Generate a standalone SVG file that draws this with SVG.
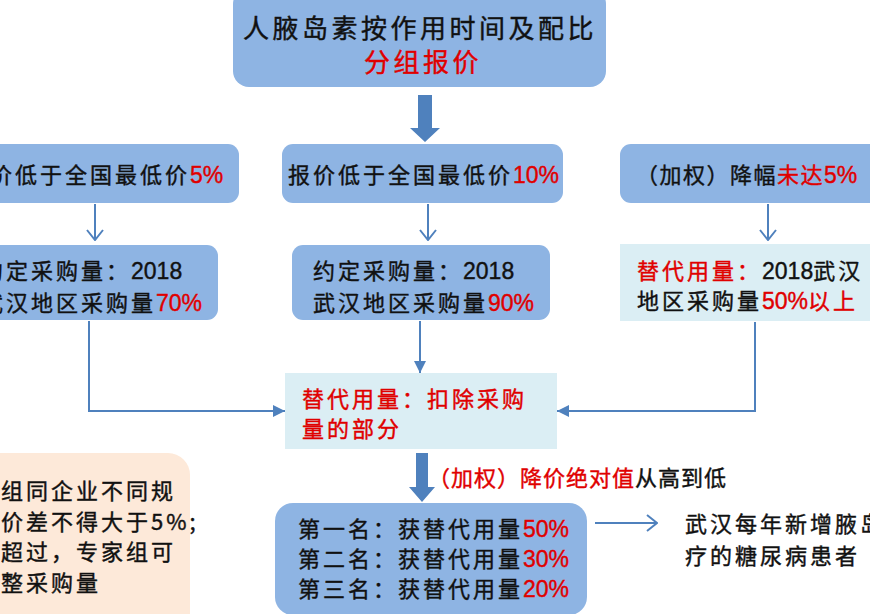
<svg xmlns="http://www.w3.org/2000/svg" width="870" height="614" viewBox="0 0 870 614">
<defs>
<style>
.t{font-family:"Noto Sans CJK SC","Noto Sans",sans-serif;font-size:22px;letter-spacing:3px;fill:#111;stroke:#111;stroke-width:0.4px;}
.ttl{font-size:26px;letter-spacing:3.5px;}
.r{fill:#e00000;stroke:#e00000;}
.n{font-family:"Liberation Sans",Arial,sans-serif;font-size:23px;letter-spacing:0;}
.blue{fill:#8eb4e3;}
.lb{fill:#dbeef4;}
.pe{fill:#fde9d9;}
.ln{fill:none;stroke:#4f81bd;stroke-width:2;}
.big{fill:#4f81bd;}
</style>
<marker id="open" markerUnits="userSpaceOnUse" viewBox="0 0 12 18" refX="11" refY="9" markerWidth="12" markerHeight="18" orient="auto">
<path d="M1,1 L11,9 L1,17" fill="none" stroke="#4f81bd" stroke-width="2"/>
</marker>
<marker id="tri" markerUnits="userSpaceOnUse" viewBox="0 0 12 12" refX="12" refY="6" markerWidth="12" markerHeight="12" orient="auto">
<path d="M0,0 L12,6 L0,12 Z" fill="#4f81bd"/>
</marker>
</defs>
<rect width="870" height="614" fill="#fff"/>

<g id="connectors">
<polygon class="big" points="418,95 432,95 432,128 440,128 425,142 410,128 418,128"/>
<line class="ln" x1="95" y1="204" x2="95" y2="240" marker-end="url(#open)"/>
<line class="ln" x1="428" y1="204" x2="428" y2="240" marker-end="url(#open)"/>
<line class="ln" x1="768" y1="204" x2="768" y2="240" marker-end="url(#open)"/>
<polyline class="ln" points="89,321 89,411 285,411" marker-end="url(#tri)"/>
<line class="ln" x1="420" y1="321" x2="420" y2="373" marker-end="url(#tri)"/>
<polyline class="ln" points="755,322 755,411 557,411" marker-end="url(#tri)"/>
<polygon class="big" points="416,453 428,453 428,487 435,487 422,502 409,487 416,487"/>
<line class="ln" x1="595" y1="523" x2="657" y2="523" marker-end="url(#open)"/>
</g>

<g id="title">
<rect class="blue" x="233" y="-12" width="373" height="99" rx="16"/>
<text class="t ttl" x="243" y="38">人腋岛素按作用时间及配比</text>
<text class="t ttl r" x="364" y="72">分组报价</text>
</g>

<g id="cond5">
<rect class="blue" x="-42" y="144" width="281" height="59" rx="11"/>
<text class="t" x="-10" y="183">价低于全国最低价<tspan class="r n">5%</tspan></text>
</g>

<g id="cond10">
<rect class="blue" x="282" y="144" width="281" height="59" rx="11"/>
<text class="t" x="288" y="183">报价低于全国最低价<tspan class="r n">10%</tspan></text>
</g>

<g id="condw">
<rect class="blue" x="620" y="144" width="290" height="59" rx="11"/>
<text class="t" x="636" y="183" style="letter-spacing:1.5px">（加权）降幅<tspan class="r">未达</tspan><tspan class="r n">5%</tspan></text>
</g>

<g id="vol70">
<rect class="blue" x="-40" y="245" width="258" height="75" rx="11"/>
<text class="t" x="-19" y="279">约定采购量：<tspan class="n">2018</tspan></text>
<text class="t" x="-19" y="311">武汉地区采购量<tspan class="r n">70%</tspan></text>
</g>

<g id="vol90">
<rect class="blue" x="292" y="245" width="258" height="75" rx="11"/>
<text class="t" x="313" y="279">约定采购量：<tspan class="n">2018</tspan></text>
<text class="t" x="313" y="311">武汉地区采购量<tspan class="r n">90%</tspan></text>
</g>

<g id="vol50">
<rect class="lb" x="620" y="244" width="260" height="77"/>
<text class="t" x="637" y="279"><tspan class="r">替代用量：</tspan><tspan class="n">2018</tspan>武汉</text>
<text class="t" x="637" y="309">地区采购量<tspan class="r n">50%</tspan><tspan class="r">以上</tspan></text>
</g>

<g id="subst">
<rect class="lb" x="285" y="373" width="272" height="76"/>
<text class="t r" x="302" y="407">替代用量：扣除采购</text>
<text class="t r" x="302" y="437">量的部分</text>
</g>

<g id="rank-label">
<text class="t" x="428" y="486" style="letter-spacing:1px"><tspan class="r">（加权）降价绝对值</tspan>从高到低</text>
</g>

<g id="rank">
<rect class="blue" x="275" y="503" width="312" height="112" rx="18"/>
<text class="t" x="298" y="537">第一名：获替代用量<tspan class="r n">50%</tspan></text>
<text class="t" x="298" y="567">第二名：获替代用量<tspan class="r n">30%</tspan></text>
<text class="t" x="298" y="597">第三名：获替代用量<tspan class="r n">20%</tspan></text>
</g>

<g id="note">
<rect class="pe" x="-30" y="453" width="220" height="190" rx="22"/>
<text class="t" x="1" y="499">组同企业不同规</text>
<text class="t" x="1" y="530">价差不得大于5%;</text>
<text class="t" x="1" y="560">超过，专家组可</text>
<text class="t" x="1" y="591">整采购量</text>
</g>

<g id="wuhan">
<text class="t" x="685" y="532">武汉每年新增腋岛</text>
<text class="t" x="685" y="564">疗的糖尿病患者</text>
</g>
</svg>
